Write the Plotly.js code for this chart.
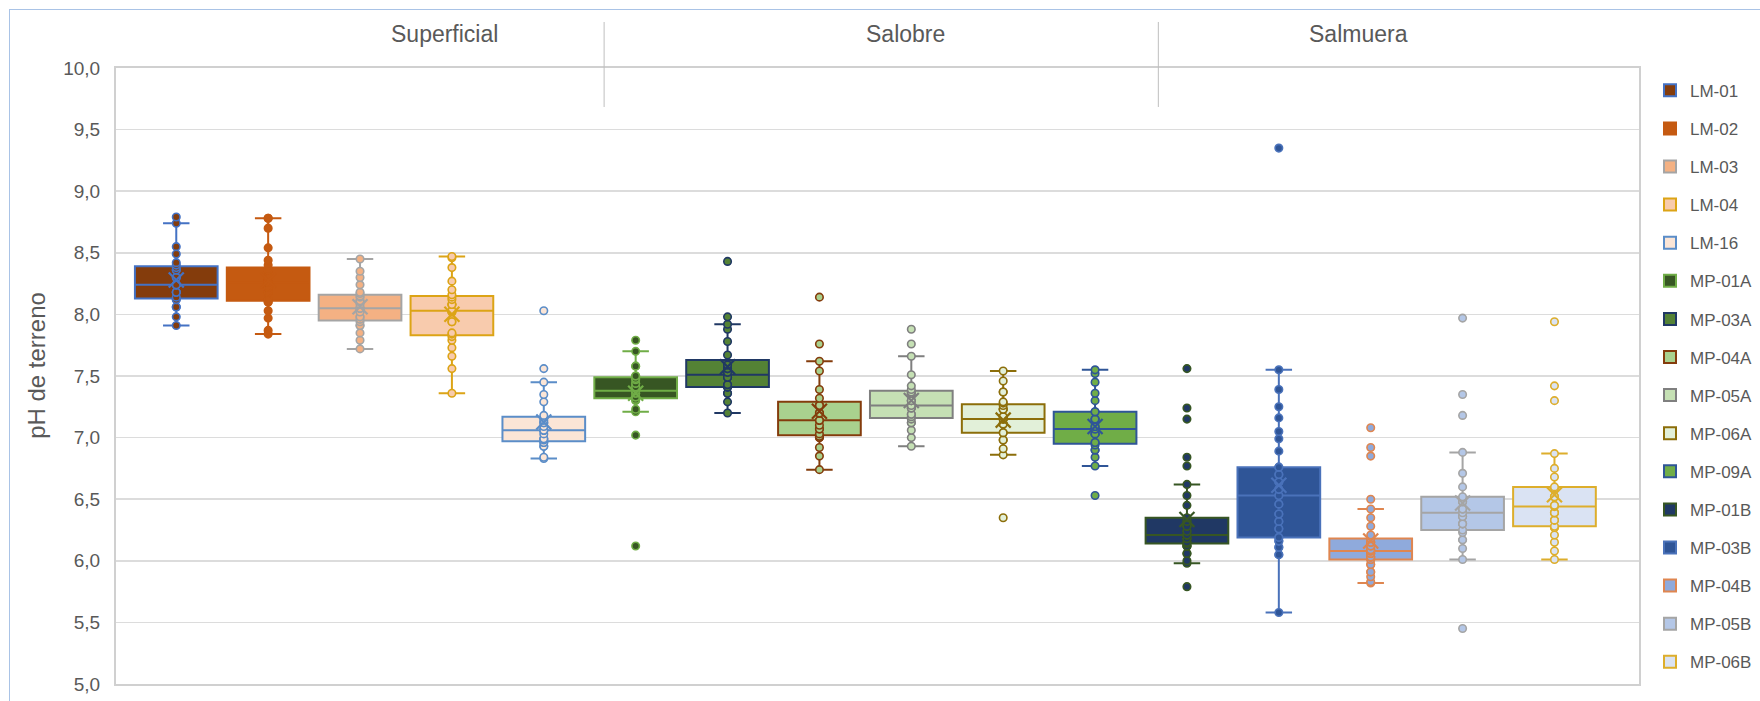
<!DOCTYPE html>
<html>
<head>
<meta charset="utf-8">
<script src="https://cdn.plot.ly/plotly-3.0.1.min.js"></script>
<style>
  html, body { margin: 0; padding: 0; background: #ffffff; }
  #chart { width: 1760px; height: 701px; position: relative; }
  #frame { position: absolute; left: 9px; top: 9px; width: 1760px; height: 700px;
           border-left: 1px solid #A9C3E6; border-top: 1px solid #A9C3E6; pointer-events: none; }
</style>
</head>
<body>
<div id="chart"></div>
<div id="frame"></div>
<script>
// ---- data (pH de terreno) ----
const names = ['LM-01','LM-02','LM-03','LM-04','LM-16','MP-01A','MP-03A','MP-04A','MP-05A','MP-06A','MP-09A','MP-01B','MP-03B','MP-04B','MP-05B','MP-06B'];
const groups = ['Superficial','Salobre','Salmuera'];
const yTitle = 'pH de terreno';

const lm01 = [7.91,7.98,8.06,8.06,8.12,8.12,8.14,8.18,8.18,8.18,8.24,8.24,8.24,8.24,8.30,8.30,8.36,8.36,8.38,8.40,8.42,8.49,8.55,8.74,8.79];
const lm02 = [7.84,7.87,7.97,8.03,8.10,8.10,8.12,8.18,8.18,8.22,8.22,8.26,8.26,8.26,8.30,8.30,8.30,8.36,8.36,8.40,8.44,8.54,8.70,8.78,8.78];
const lm03 = [7.72,7.79,7.85,7.91,7.91,7.94,7.96,7.98,7.98,8.02,8.05,8.05,8.05,8.05,8.08,8.11,8.11,8.14,8.15,8.17,8.18,8.24,8.30,8.35,8.45];
const lm04 = [7.36,7.56,7.66,7.73,7.79,7.82,7.84,7.85,7.94,7.94,8.02,8.02,8.03,8.03,8.08,8.08,8.08,8.12,8.14,8.16,8.20,8.27,8.38,8.46,8.47];
const lm16 = [6.83,6.84,6.93,6.93,6.96,6.96,6.98,6.99,6.99,7.03,7.06,7.06,7.06,7.06,7.09,7.12,7.12,7.14,7.16,7.18,7.29,7.35,7.45,7.56,8.03];
const mp01a = [6.12,7.02,7.21,7.23,7.30,7.31,7.33,7.33,7.36,7.36,7.38,7.38,7.38,7.41,7.41,7.44,7.44,7.47,7.48,7.50,7.50,7.58,7.58,7.70,7.79];
const mp03a = [7.20,7.29,7.36,7.36,7.41,7.41,7.41,7.43,7.43,7.49,7.49,7.49,7.53,7.53,7.56,7.56,7.59,7.59,7.67,7.78,7.88,7.92,7.98,8.43];
const mp04a = [6.74,6.85,6.92,7.00,7.00,7.01,7.03,7.07,7.07,7.10,7.14,7.14,7.14,7.20,7.20,7.20,7.26,7.26,7.26,7.32,7.39,7.54,7.62,7.76,8.14];
const mp05a = [6.93,7.00,7.06,7.12,7.12,7.15,7.17,7.19,7.19,7.24,7.24,7.24,7.26,7.30,7.30,7.30,7.36,7.36,7.37,7.39,7.42,7.51,7.66,7.76,7.88];
const mp06a = [6.35,6.86,6.91,6.98,6.98,7.04,7.04,7.11,7.11,7.11,7.15,7.15,7.15,7.17,7.17,7.23,7.23,7.23,7.26,7.28,7.29,7.37,7.37,7.46,7.54];
const mp09a = [6.53,6.77,6.84,6.90,6.90,6.94,6.96,6.96,7.03,7.03,7.03,7.07,7.07,7.09,7.09,7.15,7.15,7.15,7.21,7.21,7.30,7.36,7.45,7.52,7.55];
const mp01b = [5.79,5.98,6.00,6.06,6.06,6.12,6.12,6.12,6.14,6.15,6.15,6.18,6.18,6.18,6.21,6.21,6.21,6.21,6.21,6.24,6.24,6.28,6.28,6.28,6.32,6.32,6.35,6.45,6.53,6.62,6.77,6.84,7.15,7.24,7.56];
const mp03b = [5.58,6.05,6.05,6.11,6.11,6.16,6.16,6.19,6.19,6.26,6.26,6.32,6.32,6.38,6.38,6.46,6.46,6.53,6.53,6.58,6.58,6.64,6.64,6.70,6.70,6.76,6.76,6.89,6.99,7.05,7.16,7.25,7.39,7.55,9.35];
const mp04b = [5.82,5.83,5.87,5.91,5.91,5.97,5.97,6.01,6.01,6.03,6.03,6.03,6.06,6.06,6.06,6.08,6.08,6.08,6.09,6.09,6.12,6.12,6.15,6.15,6.15,6.18,6.18,6.21,6.28,6.35,6.42,6.50,6.85,6.92,7.08];
const mp05b = [5.45,6.01,6.10,6.17,6.17,6.23,6.25,6.30,6.30,6.30,6.36,6.36,6.36,6.39,6.42,6.42,6.42,6.48,6.48,6.48,6.52,6.60,6.71,6.88,7.18,7.35,7.97];
const mp06b = [6.01,6.08,6.15,6.21,6.27,6.27,6.28,6.33,6.33,6.33,6.39,6.39,6.39,6.44,6.45,6.45,6.52,6.52,6.52,6.59,6.60,6.68,6.75,6.87,7.30,7.42,7.94];

const series = [lm01,lm02,lm03,lm04,lm16,mp01a,mp03a,mp04a,mp05a,mp06a,mp09a,mp01b,mp03b,mp04b,mp05b,mp06b];

// ---- styles ----
const fills = ['#843C0C','#C55A11','#F4B183','#F8CBAD','#FBE5D6','#375623','#548235','#A9D18E','#C5E0B4','#E2F0D9','#70AD47','#203864','#2F5597','#8FAADC','#B4C7E7','#DAE3F3'];
const lines = ['#4472C4','#C55A11','#A5A5A5','#DCA416','#5B8DC8','#70AD47','#203864','#843C0C','#7F7F7F','#8C6E0A','#2F5597','#375623','#4A72BA','#DF8650','#A5A5A5','#DDAE2C'];
const textColor = '#595959';
const fontFam = '"Liberation Sans", Arial, sans-serif';

const traces = [];
series.forEach((vals, i) => {
  traces.push({
    type: 'box',
    name: names[i],
    legendgroup: names[i],
    x: vals.map(() => names[i]),
    y: vals,
    quartilemethod: 'exclusive',
    boxpoints: 'all',
    jitter: 0,
    pointpos: 0,
    fillcolor: fills[i],
    line: { color: lines[i], width: 2 },
    whiskerwidth: 0.32,
    marker: { color: fills[i], size: 7.5, line: { color: lines[i], width: 1.6 } },
    hoverinfo: 'y'
  });
});
series.forEach((vals, i) => {
  const mean = vals.reduce((a, b) => a + b, 0) / vals.length;
  traces.push({
    type: 'scatter',
    mode: 'markers',
    x: [names[i]],
    y: [mean],
    legendgroup: names[i],
    showlegend: false,
    hoverinfo: 'y',
    marker: { symbol: 'x-thin', size: 15, line: { color: lines[i], width: 2.2 } }
  });
});

const annotations = [
  { text: groups[0], x: 0.2154 },
  { text: groups[1], x: 0.5185 },
  { text: groups[2], x: 0.8155 }
].map(a => ({
  text: a.text, x: a.x, y: 1.055, xref: 'paper', yref: 'paper',
  xanchor: 'center', yanchor: 'middle', showarrow: false,
  font: { family: fontFam, size: 23, color: textColor }
}));
annotations.push({
  text: yTitle, textangle: -90, x: -0.0519, y: 0.518, xref: 'paper', yref: 'paper',
  xanchor: 'center', yanchor: 'middle', showarrow: false,
  font: { family: fontFam, size: 24, color: textColor }
});

const shapes = [0.3205, 0.6844].map(px => ({
  type: 'line', xref: 'paper', yref: 'paper',
  x0: px, x1: px, y0: 0.9367, y1: 1.0747,
  line: { color: '#BFBFBF', width: 1 }
}));

const layout = {
  width: 1760, height: 701,
  margin: { l: 116, r: 121, t: 68, b: 17 },
  paper_bgcolor: '#ffffff', plot_bgcolor: '#ffffff',
  separators: ',.',
  font: { family: fontFam, color: textColor, size: 18 },
  showlegend: true,
  boxmode: 'overlay',
  boxgap: 0.1,
  boxgroupgap: 0,
  xaxis: {
    type: 'category',
    categoryorder: 'array',
    categoryarray: names,
    range: [-0.656, 15.92],
    showticklabels: false,
    ticks: '',
    showgrid: false,
    zeroline: false,
    showline: true, mirror: true, linecolor: '#D0D0D0', linewidth: 2
  },
  yaxis: {
    range: [5, 10],
    dtick: 0.5,
    tick0: 5,
    tickformat: '.1f',
    ticks: '',
    ticklabelstandoff: 10,
    tickfont: { family: fontFam, size: 19, color: textColor },
    showgrid: true, gridcolor: '#DCDCDC', gridwidth: 1.5,
    zeroline: false,
    showline: true, mirror: true, linecolor: '#D0D0D0', linewidth: 2
  },
  legend: {
    xref: 'container', yref: 'container',
    x: 0.9375, xanchor: 'left', y: 0.8962, yanchor: 'top',
    maxheight: 690,
    font: { family: fontFam, size: 17, color: textColor },
    tracegroupgap: 13,
    bgcolor: 'rgba(0,0,0,0)'
  },
  annotations: annotations,
  shapes: shapes
};

Plotly.newPlot('chart', traces, layout, { displayModeBar: false, staticPlot: true });
</script>
</body>
</html>
